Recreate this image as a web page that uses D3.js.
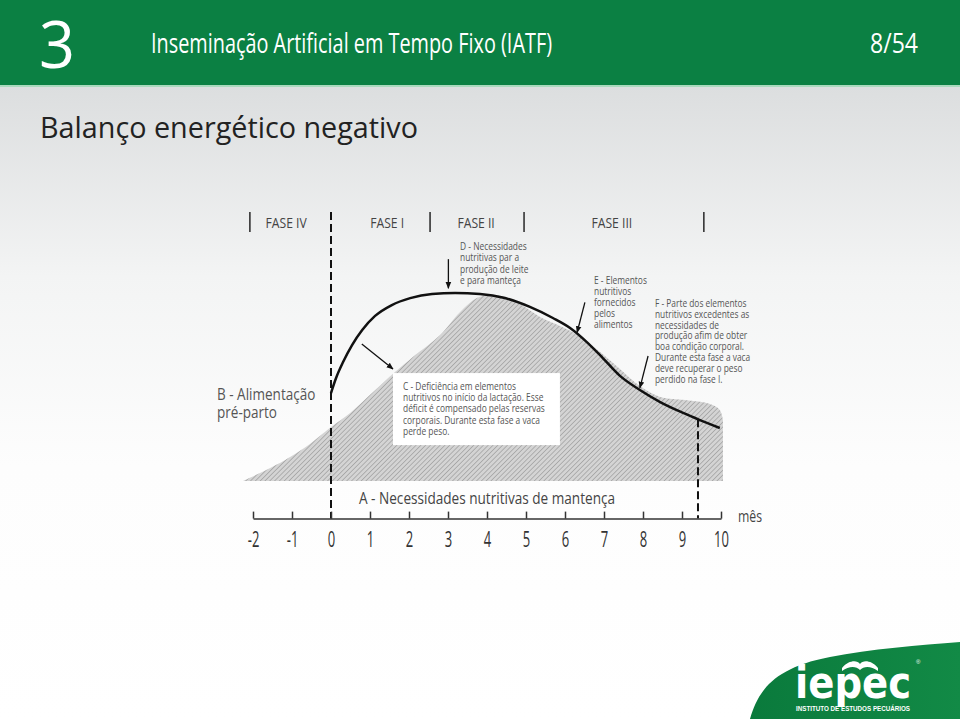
<!DOCTYPE html>
<html><head><meta charset="utf-8">
<script src="https://cdn.jsdelivr.net/npm/d3@7"></script>
<style>
html,body{margin:0;padding:0;background:#fff;}
svg{display:block;}
</style></head>
<body>
<script>
// ---- data ----
const monthTicks = [-2,-1,0,1,2,3,4,5,6,7,8,9,10];
const phaseLabels = ["FASE IV","FASE I","FASE II","FASE III"];
const phaseCenters = [-1.15, 1.44, 3.72, 7.2];       // months
const phaseBounds = [-2.08, 2.54, 4.95, 9.56];        // months (solid bars)
const dashedMonths = [0, 9.41];
// supply of nutrients (hatched area)
const supplyMonths = [-2.26,-1.56,-1.05,-0.54,0,0.49,1.08,1.64,2.10,2.80,3.31,3.74,4.08,4.46,4.85,5.36,5.87,6.31,6.90,7.41,7.92,8.44,9.08,9.72,9.97,10.05];
const supplyValues = [0,6.9,12.8,19.7,28.7,36.2,47.3,58.0,66.0,77.7,89.9,97.3,98.9,97.9,94.1,87.2,82.4,77.7,68.6,59.6,50.5,44.7,43.1,41.0,37.8,32.4];
// requirement for milk production (black curve)
const needMonths = [0,0.13,0.31,0.54,0.80,1.13,1.56,2.03,2.59,3.18,3.82,4.46,5.10,5.69,6.13,6.56,6.97,7.41,7.92,8.44,9.03,9.46,9.97];
const needValues = [46.8,54.8,63.3,72.3,80.3,87.8,93.6,97.3,99.5,100,99.5,97.3,92.6,86.7,81.4,73.9,65.4,55.9,48.4,42.0,36.2,32.4,28.2];

const W = 960, H = 719;
const svg = d3.select("body").append("svg").attr("width", W).attr("height", H);
const defs = svg.append("defs");
const FN = "'Open Sans','Noto Sans',sans-serif";

// background gradient
const bg = defs.append("linearGradient").attr("id","bg").attr("x1",0).attr("y1",0).attr("x2",0).attr("y2",1);
bg.append("stop").attr("offset","0").attr("stop-color","#dcdedf");
bg.append("stop").attr("offset","0.3").attr("stop-color","#f3f4f4");
bg.append("stop").attr("offset","0.6").attr("stop-color","#fdfdfd");
bg.append("stop").attr("offset","1").attr("stop-color","#ffffff");
svg.append("rect").attr("x",0).attr("y",87).attr("width",W).attr("height",H-87).attr("fill","url(#bg)");

// hatch pattern
const pat = defs.append("pattern").attr("id","hatch").attr("patternUnits","userSpaceOnUse")
  .attr("width",3.4).attr("height",3.4).attr("patternTransform","rotate(45)");
pat.append("rect").attr("width",3.4).attr("height",3.4).attr("fill","#d4d4d4");
pat.append("line").attr("x1",0).attr("y1",0).attr("x2",0).attr("y2",3.4).attr("stroke","#8e8e8e").attr("stroke-width",1.1);

// arrow marker
defs.append("marker").attr("id","arr").attr("viewBox","0 0 10 10").attr("refX",9).attr("refY",5)
  .attr("markerWidth",7).attr("markerHeight",7).attr("markerUnits","userSpaceOnUse").attr("orient","auto")
  .append("path").attr("d","M0,1 L10,5 L0,9 Z").attr("fill","#111");

// scaled text helper (horizontally condensed)
function stext(parent, x0, y0, str, fs, sx, fill, anchor){
  return parent.append("text").attr("transform",`translate(${x0},${y0}) scale(${sx},1)`)
    .attr("font-family",FN).attr("font-size",fs).attr("fill",fill).attr("text-anchor",anchor||"start").text(str);
}

// header
svg.append("rect").attr("x",0).attr("y",0).attr("width",W).attr("height",85).attr("fill","#0b8043");
svg.append("rect").attr("x",0).attr("y",85).attr("width",W).attr("height",2).attr("fill","#a9d9bd");
svg.append("text").attr("x",39).attr("y",68).attr("fill","#fff").attr("font-family",FN)
  .attr("font-size",66).attr("textLength",36).attr("lengthAdjust","spacingAndGlyphs").text("3");
svg.append("text").attr("x",151).attr("y",53).attr("fill","#fff").attr("font-family",FN)
  .attr("font-size",27).attr("textLength",401).attr("lengthAdjust","spacingAndGlyphs").text("Inseminação Artificial em Tempo Fixo (IATF)");
svg.append("text").attr("x",870).attr("y",53).attr("fill","#fff").attr("font-family",FN)
  .attr("font-size",27).attr("textLength",48).attr("lengthAdjust","spacingAndGlyphs").text("8/54");
svg.append("text").attr("x",40).attr("y",138).attr("fill","#222").attr("font-family",FN)
  .attr("font-size",30).attr("textLength",378).attr("lengthAdjust","spacingAndGlyphs").text("Balanço energético negativo");

// scales
const x = d3.scaleLinear().domain([-2,10]).range([253,721]);
const y = d3.scaleLinear().domain([0,100]).range([481,293]);

// hatched supply area
const supply = supplyMonths.map((m,i)=>[m,supplyValues[i]]);
svg.append("path").datum(supply)
  .attr("d", d3.area().x(d=>x(d[0])).y0(y(0)).y1(d=>y(d[1])).curve(d3.curveCatmullRom.alpha(0.5)))
  .attr("fill","url(#hatch)");

// C box
svg.append("rect").attr("x",x(1.59)).attr("y",y(57.4)).attr("width",x(5.87)-x(1.59)).attr("height",y(19.1)-y(57.4))
  .attr("fill","#fff");

// dashed lines
const axisY = y(-20);
svg.append("line").attr("x1",x(0)).attr("x2",x(0)).attr("y1",212).attr("y2",axisY)
  .attr("stroke","#111").attr("stroke-width",2).attr("stroke-dasharray","8,4");
svg.append("line").attr("x1",x(dashedMonths[1])).attr("x2",x(dashedMonths[1])).attr("y1",y(32.8)).attr("y2",axisY)
  .attr("stroke","#111").attr("stroke-width",2).attr("stroke-dasharray","8,4");

// need curve
const need = needMonths.map((m,i)=>[m,needValues[i]]);
svg.append("path").datum(need)
  .attr("d", d3.line().x(d=>x(d[0])).y(d=>y(d[1])).curve(d3.curveMonotoneX))
  .attr("fill","none").attr("stroke","#111").attr("stroke-width",2.5);

// phase header
const ph = svg.append("g");
phaseBounds.forEach(m=>{
  ph.append("line").attr("x1",x(m)).attr("x2",x(m)).attr("y1",212).attr("y2",232).attr("stroke","#333").attr("stroke-width",1.6);
});
phaseLabels.forEach((t,i)=>{
  stext(ph, x(phaseCenters[i]), 228, t, 14.5, 0.84, "#444", "middle");
});

// axis
const axis = d3.axisBottom(x).tickValues(monthTicks).tickSize(-7).tickSizeOuter(0).tickPadding(13)
  .tickFormat(d=>d);
const ag = svg.append("g").attr("transform",`translate(0,${axisY})`).call(axis);
ag.select(".domain").attr("stroke","#333").attr("stroke-width",1.5);
ag.selectAll(".tick line").attr("stroke","#333").attr("stroke-width",1.5);
ag.selectAll(".tick text").attr("font-family",FN).attr("font-size",21).attr("fill","#333")
  .attr("transform","scale(0.62,1)");
stext(svg, 738, 522, "mês", 17, 0.72, "#444");

// text blocks
function block(lines, x0, y0, lh, fs, sx, fill){
  const g = svg.append("g").attr("transform",`translate(${x0},0) scale(${sx},1)`);
  const t = g.append("text").attr("font-family",FN).attr("font-size",fs).attr("fill",fill);
  lines.forEach((l,i)=>t.append("tspan").attr("x",0).attr("y",y0+i*lh).text(l));
}
block(["B - Alimentação","pré-parto"], 217, 400, 18, 16.5, 0.82, "#555");
block(["D - Necessidades","nutritivas par a","produção de leite","e para manteça"], 460, 250, 11.4, 10.5, 0.8, "#555");
block(["E - Elementos","nutritivos","fornecidos","pelos","alimentos"], 594, 284, 11.1, 10.5, 0.8, "#555");
block(["F - Parte dos elementos","nutritivos excedentes as","necessidades de","produção afim de obter","boa condição corporal.","Durante esta fase a vaca","deve recuperar o peso","perdido na fase I."], 655, 307, 10.8, 10.2, 0.82, "#555");
block(["C - Deficiência em elementos","nutritivos no início da lactação. Esse","déficit é compensado pelas reservas","corporais. Durante esta fase a vaca","perde peso."], 403, 390, 11.2, 10.5, 0.8, "#555");
block(["A - Necessidades nutritivas de mantença"], 359, 504, 0, 17, 0.8, "#444");

// arrows
function arrow(m1,v1,m2,v2){
  svg.append("line").attr("x1",x(m1)).attr("y1",y(v1)).attr("x2",x(m2)).attr("y2",y(v2))
    .attr("stroke","#111").attr("stroke-width",1.3).attr("marker-end","url(#arr)");
}
arrow(3.01,118,3.01,102.5);   // D
arrow(6.51,95,6.31,79);       // E
arrow(8.13,66.5,7.92,49.5);   // F
arrow(0.79,72.9,1.59,59.6);   // C

// logo swoosh
const lg = defs.append("linearGradient").attr("id","lg").attr("x1",0).attr("y1",0).attr("x2",1).attr("y2",0);
lg.append("stop").attr("offset","0").attr("stop-color","#0a7a3c");
lg.append("stop").attr("offset","1").attr("stop-color","#128a46");
svg.append("path").attr("d","M750,719 C758,692 772,668 830,657 C870,649 920,645 960,642 L960,719 Z").attr("fill","url(#lg)");
svg.append("text").attr("x",795).attr("y",698).attr("fill","#fff").attr("font-family","'DejaVu Sans','Liberation Sans',sans-serif")
  .attr("font-weight","bold").attr("font-size",44).attr("textLength",116).attr("lengthAdjust","spacingAndGlyphs").text("iepec");
svg.append("path").attr("d","M842,668 C849,660 857,660 860,664 C863,660 871,660 878,668 L878,671 C871,666 864,666 860,670 C856,666 849,666 842,671 Z").attr("fill","#fff");
svg.append("text").attr("x",916).attr("y",664).attr("fill","#fff").attr("font-family","'Liberation Sans',sans-serif").attr("font-size",6).text("®");
svg.append("text").attr("x",796).attr("y",711).attr("fill","#fff").attr("font-family","'Liberation Sans',sans-serif")
  .attr("font-weight","bold").attr("font-size",7).attr("textLength",114).attr("lengthAdjust","spacingAndGlyphs").text("INSTITUTO DE ESTUDOS PECUÁRIOS");
</script>
</body></html>
